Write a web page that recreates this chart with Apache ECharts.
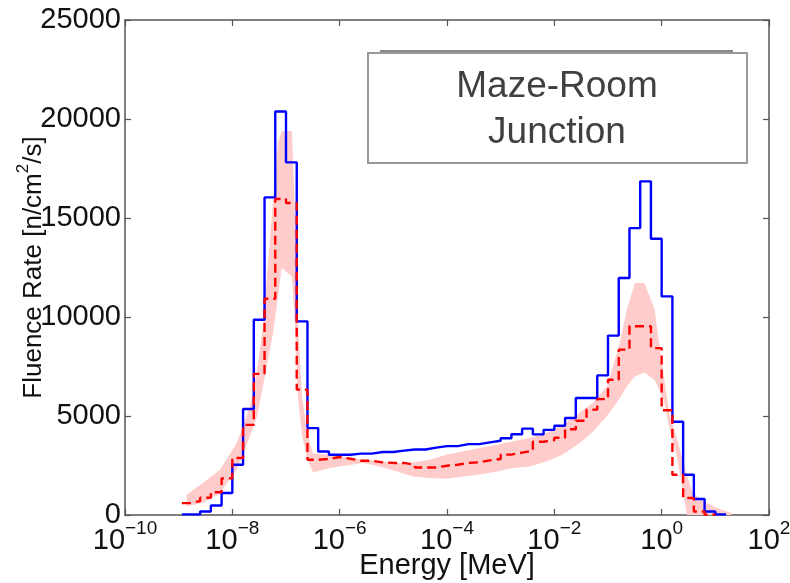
<!DOCTYPE html>
<html>
<head>
<meta charset="utf-8">
<title>Maze-Room Junction</title>
<script src="https://cdn.jsdelivr.net/npm/echarts@6/dist/echarts.min.js"></script>
<style>
  html, body { margin: 0; padding: 0; background: #fff; }
  #chart { width: 790px; height: 583px; }
</style>
</head>
<body>
<div id="chart"></div>
<script>
// bin edges, log10(E / MeV)
var binEdges = [-8.94, -8.8, -8.6, -8.4, -8.2, -8.0, -7.8, -7.6, -7.4, -7.2,
                -7.0, -6.8, -6.6, -6.4, -6.2, -6.0, -5.8, -5.6, -5.4, -5.2,
                -5.0, -4.8, -4.6, -4.4, -4.2, -4.0, -3.8, -3.6, -3.4, -3.2,
                -3.0, -2.8, -2.6, -2.4, -2.2, -2.0, -1.8, -1.6, -1.4, -1.2,
                -1.0, -0.8, -0.6, -0.4, -0.2, 0.0, 0.2, 0.4, 0.6, 0.8,
                1.0, 1.2];

// measured (blue solid), one value per bin
var measured = [30, 30, 180, 480, 1110, 2540, 5350, 9860, 16040, 20380,
                17810, 9780, 4390, 3210, 3045, 3045, 3100, 3100, 3180, 3180,
                3250, 3310, 3310, 3400, 3480, 3480, 3580, 3580, 3670, 3750,
                3880, 4080, 4360, 4070, 4300, 4510, 4900, 5910, 5910, 7050,
                9060, 11970, 14490, 16850, 13950, 11040, 4710, 2035, 810, 180,
                30];

// simulated mean (red dashed)
var simulated = [600, 700, 870, 1150, 1850, 2880, 4550, 7130, 10920, 15960,
                 15760, 6330, 2790, 2830, 2930, 2840, 2740, 2740, 2660, 2630,
                 2630, 2540, 2400, 2400, 2490, 2540, 2630, 2660, 2760, 2830,
                 3050, 3150, 3250, 3700, 3780, 3900, 4330, 4760, 5320, 5850,
                 6830, 8350, 9530, 9530, 8430, 5290, 2030, 860, 180, 10];

// simulated spread (pink band)
var bandLog = [-8.85, -8.55, -8.23, -7.92, -7.67, -7.54, -7.43, -7.34, -7.24, -7.15,
               -7.08, -6.89, -6.83, -6.78, -6.70, -6.61, -6.50, -6.18, -5.57, -5.25,
               -4.93, -4.64, -4.32, -4.00, -3.71, -3.39, -3.07, -2.77, -2.46, -2.14,
               -1.84, -1.53, -1.28, -1.02, -0.78, -0.65, -0.50, -0.32, -0.13, -0.04,
               0.04, 0.15, 0.28, 0.39, 0.47, 0.58, 0.84, 1.08, 1.30];
var bandUpper = [1020, 1610, 2290, 3630, 5500, 7300, 9500, 12500, 16000, 18800,
                 19400, 19400, 15000, 9800, 6000, 4200, 3100, 3050, 2790, 2710,
                 2630, 2650, 2790, 3050, 3210, 3380, 3550, 3720, 3890, 4140,
                 4560, 5160, 5670, 6490, 8700, 10370, 11720, 11720, 10370, 8520,
                 7000, 5000, 3900, 2800, 2000, 1110, 610, 300, 100];
var bandLower = [440, 600, 1110, 2290, 4000, 4950, 6500, 7800, 9200, 11000,
                 12470, 12050, 9500, 6000, 4000, 2900, 2150, 2370, 2630, 2450,
                 2200, 1950, 1870, 1830, 1950, 2040, 2200, 2370, 2450, 2710,
                 3050, 3640, 4200, 5000, 5900, 6500, 7000, 7200, 6800, 6300,
                 5800, 4300, 3000, 1300, 0, 0, 0, 0, 0];

var xTicks = [-10, -8, -6, -4, -2, 0, 2];
var yTicks = [0, 5000, 10000, 15000, 20000, 25000];

var FONT = 'Liberation Sans, Arial, Helvetica, sans-serif';
var AXIS_COLOR = '#555555';
var TEXT_COLOR = '#111111';

// histogram -> step points (last edge closes the last bin)
function stepData(values) {
    var d = [];
    for (var i = 0; i < values.length; i++) {
        d.push([binEdges[i], values[i]]);
    }
    d.push([binEdges[values.length], values[values.length - 1]]);
    return d;
}

var bandData = [];
for (var i = 0; i < bandLog.length; i++) bandData.push([bandLog[i], bandLower[i], bandUpper[i]]);

// the whole band as one polygon: upper edge forward, lower edge back
function renderBand(params, api) {
    if (params.dataIndex !== 0) return;
    var pts = [], i;
    for (i = 0; i < bandLog.length; i++) pts.push(api.coord([bandLog[i], bandUpper[i]]));
    for (i = bandLog.length - 1; i >= 0; i--) pts.push(api.coord([bandLog[i], bandLower[i]]));
    return {
        type: 'polygon',
        shape: {points: pts},
        style: {fill: '#ffcccc', stroke: null}
    };
}

var supRich = {
    b: {fontSize: 29, fontFamily: FONT, color: TEXT_COLOR, lineHeight: 36, verticalAlign: 'bottom'},
    s: {fontSize: 19, fontFamily: FONT, color: TEXT_COLOR, lineHeight: 20, verticalAlign: 'top'}
};
var yNameRich = {
    b: {fontSize: 26, fontFamily: FONT, color: TEXT_COLOR, lineHeight: 32, verticalAlign: 'bottom'},
    s: {fontSize: 17, fontFamily: FONT, color: TEXT_COLOR, lineHeight: 18, verticalAlign: 'top'}
};

var baseX = {
    type: 'value',
    min: xTicks[0],
    max: xTicks[xTicks.length - 1],
    interval: 2,
    splitLine: {show: false},
    axisLine: {show: true, onZero: false, lineStyle: {color: AXIS_COLOR, width: 1.5}},
    axisTick: {show: true, inside: true, length: 6, lineStyle: {color: AXIS_COLOR, width: 1.2}}
};
var baseY = {
    type: 'value',
    min: yTicks[0],
    max: yTicks[yTicks.length - 1],
    interval: 5000,
    splitLine: {show: false},
    axisLine: {show: true, onZero: false, lineStyle: {color: AXIS_COLOR, width: 1.5}},
    axisTick: {show: true, inside: true, length: 6, lineStyle: {color: AXIS_COLOR, width: 1.2}}
};

var option = {
    backgroundColor: '#ffffff',
    animation: false,
    // fixed plot box, labels may sit outside it
    grid: {left: 125, right: 21, top: 20, bottom: 68, containLabel: false, outerBoundsMode: 'none'},
    xAxis: [
        echarts.util.merge({
            position: 'bottom',
            name: 'Energy [MeV]',
            nameLocation: 'middle',
            nameGap: 36,
            nameMoveOverlap: false,
            nameTextStyle: {fontSize: 29, fontFamily: FONT, color: TEXT_COLOR},
            axisLabel: {
                margin: 4,
                formatter: function (v) {
                    var e = Math.round(v);
                    var s = e < 0 ? '\u2212' + (-e) : '' + e;
                    return '{b|10}{s|' + s + '}';
                },
                rich: supRich
            }
        }, baseX, true),
        echarts.util.merge({position: 'top', axisLabel: {show: false}}, baseX, true)
    ],
    yAxis: [
        echarts.util.merge({
            position: 'left',
            name: '{b|Fluence Rate [n/cm}{s|2}{b|/s]}',
            nameLocation: 'middle',
            nameGap: 78,
            nameMoveOverlap: false,
            nameTextStyle: {rich: yNameRich},
            axisLabel: {
                margin: 4, fontSize: 29, fontFamily: FONT, color: TEXT_COLOR,
                formatter: function (v) { return String(v); }
            }
        }, baseY, true),
        echarts.util.merge({position: 'right', axisLabel: {show: false}}, baseY, true)
    ],
    series: [
        {
            name: 'band', type: 'custom', silent: true, z: 1,
            renderItem: renderBand,
            encode: {x: 0, y: [1, 2]},
            data: bandData
        },
        {
            name: 'measured', type: 'line', step: 'end', symbol: 'none', z: 3,
            lineStyle: {color: '#0000ff', width: 2.4},
            data: stepData(measured)
        },
        {
            name: 'simulated', type: 'line', step: 'end', symbol: 'none', z: 4,
            lineStyle: {color: '#ff0000', width: 2.4, type: [9, 5]},
            data: stepData(simulated)
        }
    ],
    graphic: [
        {
            type: 'line', z: 10,
            shape: {x1: 380, y1: 51, x2: 733, y2: 51},
            style: {stroke: '#888888', lineWidth: 2}
        },
        {
            type: 'rect', z: 10,
            shape: {x: 368, y: 53, width: 379, height: 110},
            style: {fill: '#ffffff', stroke: '#999999', lineWidth: 2}
        },
        {
            type: 'text', z: 11,
            x: 557, y: 110,
            style: {
                text: 'Maze-Room\nJunction',
                font: '37px ' + FONT,
                fill: '#404040',
                align: 'center',
                verticalAlign: 'middle',
                lineHeight: 46
            }
        }
    ]
};

var chart = echarts.init(document.getElementById('chart'), null, {renderer: 'canvas'});
chart.setOption(option);
</script>
</body>
</html>
